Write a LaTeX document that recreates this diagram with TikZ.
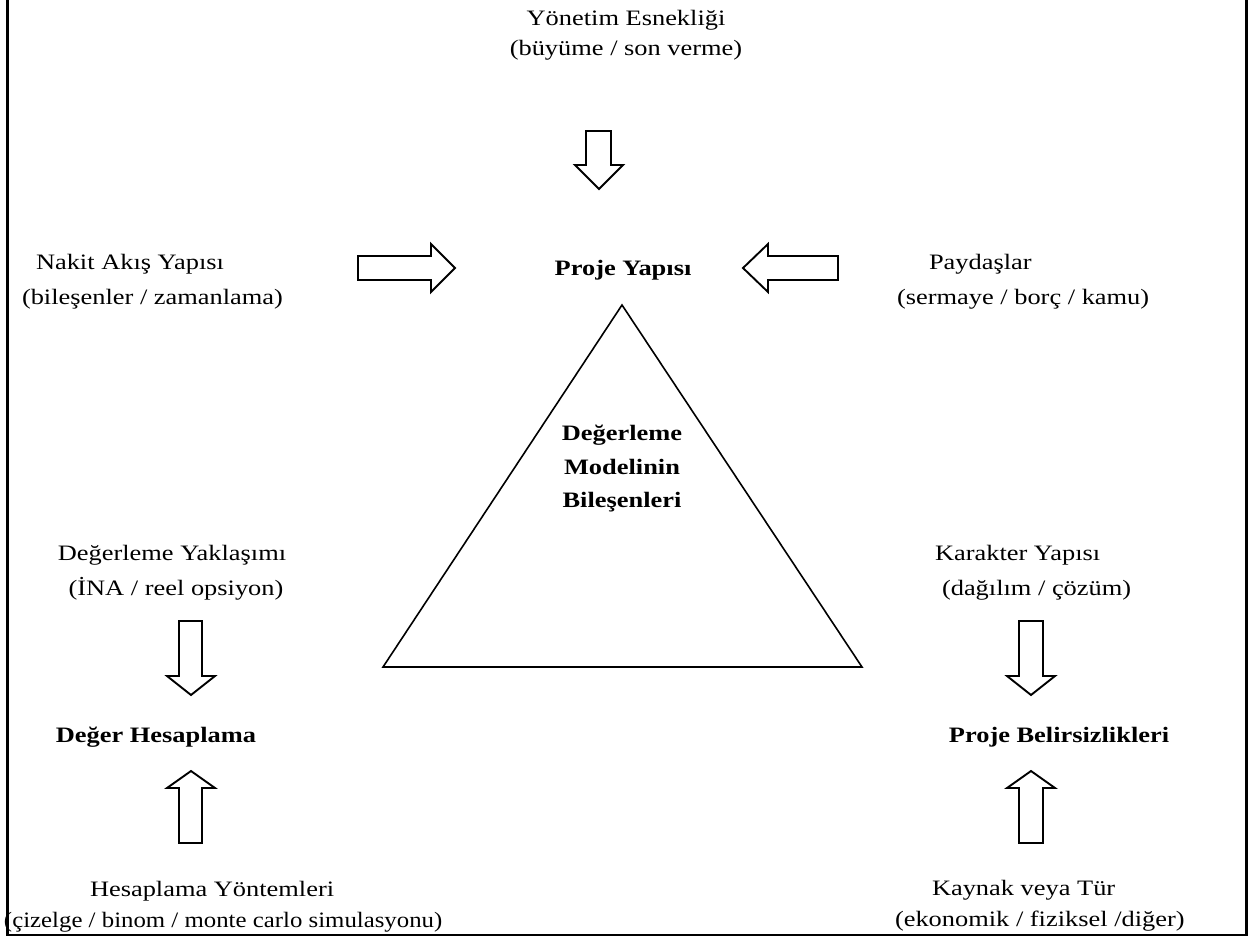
\documentclass[tikz,border=0pt]{standalone}
\usepackage{fontspec}
\setmainfont[FakeStretch=1.2]{Liberation Serif}
\begin{document}
\begin{tikzpicture}[x=1pt,y=-1pt,
  every node/.style={inner sep=0pt,outer sep=0pt,font=\fontsize{22}{31}\selectfont},
  lbl/.style={anchor=base west},
  clbl/.style={anchor=base},
  bold/.style={font=\fontsize{22}{31}\selectfont\bfseries},
  blockarrow/.style={draw=black,line width=1.9pt,line join=miter,fill=white},
  frameline/.style={draw=black,line width=2.4pt},
  tri/.style={draw=black,line width=1.6pt,line join=miter}]
\useasboundingbox (0,0) rectangle (1249,937);

% open frame round the figure
\draw[frameline] (7.5,-2) -- (7.5,935) -- (1246.5,935) -- (1246.5,-2);

% central triangle
\draw[tri] (622,305) -- (862,667) -- (383,667) -- cycle;
\node[bold,clbl] (m1) at (622,440) {Değerleme};
\node[bold,clbl] (m2) at (622,474) {Modelinin};
\node[bold,clbl] (m3) at (622,507) {Bileşenleri};

% top group
\node[clbl] (ye1) at (626,25) {Yönetim Esnekliği};
\node[clbl] (ye2) at (626,55) {(büyüme / son verme)};
\node[bold,clbl] (py) at (623,275) {Proje Yapısı};

\node[lbl] (na1) at (36,269) {Nakit Akış Yapısı};
\node[lbl] (na2) at (22,304) {(bileşenler / zamanlama)};

\node[lbl] (pd1) at (929,269) {Paydaşlar};
\node[lbl] (pd2) at (897,304) {(sermaye / borç / kamu)};

% bottom-left group
\node[clbl] (dy1) at (172,560) {Değerleme Yaklaşımı};
\node[clbl] (dy2) at (176,595) {(İNA / reel opsiyon)};
\node[bold,clbl] (dh) at (156,742) {Değer Hesaplama};
\node[lbl] (hy1) at (90,896) {Hesaplama Yöntemleri};
\node[lbl] (hy2) at (4,927) {\scalebox{0.94}[1]{(çizelge / binom / monte carlo simulasyonu)}};

% bottom-right group
\node[lbl] (ky1) at (935,560) {Karakter Yapısı};
\node[lbl] (ky2) at (942,595) {(dağılım / çözüm)};
\node[bold,clbl] (pb) at (1059,742) {Proje Belirsizlikleri};
\node[lbl] (kt1) at (932,895) {Kaynak veya Tür};
\node[lbl] (kt2) at (895,926) {(ekonomik / fiziksel /diğer)};

% block arrows
% down, into Proje Yapısı
\path[blockarrow] (586,131) -- (611,131) -- (611,165) -- (623,165) -- (599,189)
  -- (575,165) -- (586,165) -- cycle;
% right, from Nakit Akış Yapısı
\path[blockarrow] (358,256) -- (431,256) -- (431,244) -- (455,268) -- (431,292)
  -- (431,280) -- (358,280) -- cycle;
% left, from Paydaşlar
\path[blockarrow] (838,256) -- (768,256) -- (768,244) -- (743,268) -- (768,292)
  -- (768,280) -- (838,280) -- cycle;
% left column
\path[blockarrow] (179,621) -- (202,621) -- (202,676) -- (215,676) -- (191,695)
  -- (167,676) -- (179,676) -- cycle;
\path[blockarrow] (179,843) -- (202,843) -- (202,788) -- (215,788) -- (191,771)
  -- (167,788) -- (179,788) -- cycle;
% right column
\path[blockarrow] (1019,621) -- (1043,621) -- (1043,676) -- (1055,676) -- (1031,695)
  -- (1007,676) -- (1019,676) -- cycle;
\path[blockarrow] (1019,843) -- (1043,843) -- (1043,788) -- (1055,788) -- (1031,771)
  -- (1007,788) -- (1019,788) -- cycle;
\end{tikzpicture}
\end{document}
